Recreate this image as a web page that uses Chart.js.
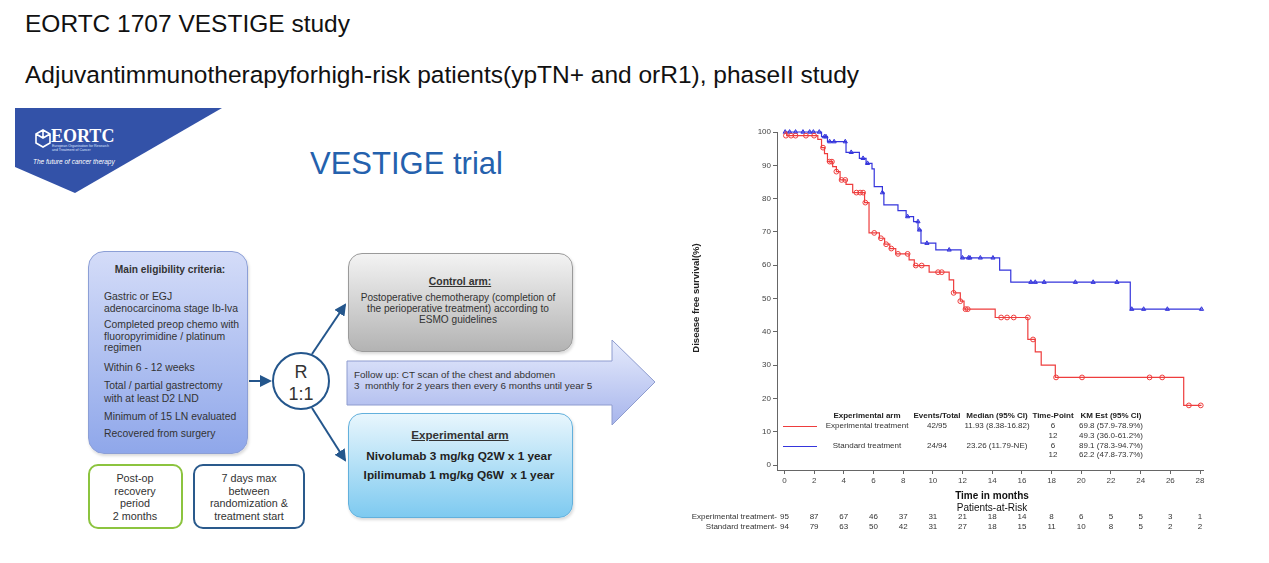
<!DOCTYPE html>
<html>
<head>
<meta charset="utf-8">
<script src="https://cdn.jsdelivr.net/npm/chart.js@4"></script>
<style>
  html, body { margin: 0; padding: 0; background: #fff; }
  body { width: 1269px; height: 563px; position: relative; overflow: hidden; font-family: "Liberation Sans", Arial, sans-serif; color: #222; }
  .abs { position: absolute; }
  .h1 { font-size: 24.5px; color: #111; white-space: nowrap; }
  .box { position: absolute; box-sizing: border-box; }
  .t { position: absolute; white-space: nowrap; font-size: 10.4px; color: #333; line-height: 12px; }
  .c { transform: translateX(-50%); text-align: center; }
  #km { position: absolute; left: 680px; top: 115px; }
</style>
</head>
<body>
<div class="abs h1" style="left:25px; top:10px;">EORTC 1707 VESTIGE study</div>
<div class="abs h1" style="left:25px; top:61px;">Adjuvantimmunotherapyforhigh-risk patients(ypTN+ and orR1), phaseII study</div>

<!-- diagram shapes -->
<svg class="abs" style="left:0; top:0;" width="680" height="563">
  <defs>
    <linearGradient id="gArrow" x1="0" y1="0" x2="0" y2="1">
      <stop offset="0" stop-color="#e6ebfc"/><stop offset="1" stop-color="#a7b5ec"/>
    </linearGradient>
    <marker id="ah" markerWidth="6" markerHeight="6" refX="5" refY="3" orient="auto">
      <path d="M0,0 L6,3 L0,6 z" fill="#24568c"/>
    </marker>
  </defs>
  <polygon points="15,108 222,108 75,193 15,167" fill="#3352a8"/>
  <path d="M36,134 l7,-4 l7,4 l0,9 l-7,4 l-7,-4 z M43,130 l0,8 M36,134 l7,4 l7,-4" fill="none" stroke="#fff" stroke-width="1.6"/>
  <polygon points="347,361 612,361 612,340 655,382 612,425 612,405 347,405" fill="url(#gArrow)" stroke="#8e9ccf" stroke-width="1"/>
  <line x1="249" y1="381" x2="270" y2="381" stroke="#24568c" stroke-width="2" marker-end="url(#ah)"/>
  <line x1="312" y1="354" x2="345" y2="305" stroke="#24568c" stroke-width="2" marker-end="url(#ah)"/>
  <line x1="312" y1="408" x2="345" y2="460" stroke="#24568c" stroke-width="2" marker-end="url(#ah)"/>
</svg>

<div class="abs" style="left:51px; top:126px; font-family:'Liberation Serif',serif; font-weight:bold; font-size:18px; color:#fff;">EORTC</div>
<div class="abs" style="left:52px; top:144px; font-size:3.5px; line-height:4px; color:#dfe5ff;">European Organisation for Research<br>and Treatment of Cancer</div>
<div class="abs" style="left:33px; top:158px; font-size:6.5px; font-style:italic; color:#fff; white-space:nowrap;">The future of cancer therapy</div>
<div class="abs" style="left:310px; top:146px; font-size:31px; color:#2461ad; white-space:nowrap;">VESTIGE trial</div>

<!-- eligibility -->
<div class="box" style="left:88px; top:251px; width:160px; height:203px; border-radius:16px; border:1px solid #8c9fd6; background:linear-gradient(#d4dcf8,#8fa7ea); box-shadow:1px 2px 3px rgba(0,0,0,0.15);"></div>
<div class="t c" style="left:170px; top:264px; font-weight:bold; font-size:10.2px;">Main eligibility criteria:</div>
<div class="t" style="left:104px; top:291px; line-height:11.7px;">Gastric or EGJ<br>adenocarcinoma stage Ib-Iva</div>
<div class="t" style="left:104px; top:319px; line-height:11.7px;">Completed preop chemo with<br>fluoropyrimidine / platinum<br>regimen</div>
<div class="t" style="left:104px; top:362px;">Within 6 - 12 weeks</div>
<div class="t" style="left:104px; top:380px; line-height:12.5px;">Total / partial gastrectomy<br>with at least D2 LND</div>
<div class="t" style="left:104px; top:411px;">Minimum  of 15 LN evaluated</div>
<div class="t" style="left:104px; top:428px;">Recovered from surgery</div>

<div class="box" style="left:88px; top:464px; width:95px; height:65px; border-radius:10px; border:2px solid #8cc43f; background:#fff;"></div>
<div class="t c" style="left:135px; top:472px; line-height:12.5px; font-size:10.8px;">Post-op<br>recovery<br>period<br>2 months</div>
<div class="box" style="left:193px; top:464px; width:112px; height:65px; border-radius:10px; border:2px solid #2a5a8c; background:#fff;"></div>
<div class="t c" style="left:249px; top:472px; line-height:12.5px; font-size:10.8px;">7 days max<br>between<br>randomization &amp;<br>treatment start</div>

<!-- randomisation -->
<div class="box" style="left:272px; top:352px; width:58px; height:58px; border-radius:50%; border:2px solid #24568c; background:#fff;"></div>
<div class="t c" style="left:301px; top:361px; font-size:18px; line-height:22px; color:#333;">R<br>1:1</div>

<!-- arms -->
<div class="box" style="left:348px; top:253px; width:225px; height:99px; border-radius:14px; border:1px solid #9a9a9a; background:linear-gradient(#f3f3f3,#b3b3b3); box-shadow:1px 2px 3px rgba(0,0,0,0.15);"></div>
<div class="t c" style="left:460px; top:276px; font-weight:bold; text-decoration:underline;">Control arm:</div>
<div class="t c" style="left:458px; top:292px; font-size:10.1px; line-height:11px;">Postoperative chemotherapy (completion of<br>the perioperative treatment) according to<br>ESMO guidelines</div>
<div class="t" style="left:354px; top:370px; font-size:9.9px; line-height:10.5px;">Follow up: CT scan of the chest and abdomen<br>3&nbsp; monthly for 2 years then every 6 months until year 5</div>

<div class="box" style="left:348px; top:413px; width:225px; height:105px; border-radius:14px; border:1px solid #62b0dc; background:linear-gradient(#e8f6fd,#7ecaf0); box-shadow:1px 2px 3px rgba(0,0,0,0.15);"></div>
<div class="t c" style="left:460px; top:429px; font-size:11.6px; font-weight:bold; text-decoration:underline;">Experimental arm</div>
<div class="t c" style="left:459px; top:447px; font-size:11.8px; font-weight:bold; line-height:18.5px; color:#222;">Nivolumab 3 mg/kg Q2W x 1 year<br>Ipilimumab 1 mg/kg Q6W&nbsp; x 1 year</div>

<canvas id="km" width="540" height="430"></canvas>

<script>
// Kaplan-Meier steps (months, % disease free)
const expTime = [0, 0.15, 2.25, 2.5, 2.7, 2.9, 3.25, 3.5, 3.75, 4.15, 4.6, 5.4, 5.7, 6.4, 6.75, 7.1, 7.5, 8.4, 8.75, 9.75, 11.1, 11.4, 11.85, 12.1, 14.2, 16.4, 16.9, 17.3, 18.25, 26.9, 28.1];
const expSurv = [100, 98.9, 97.8, 95.3, 93.5, 91.1, 89.6, 88.1, 85.6, 84.3, 81.8, 78.8, 69.7, 68.1, 66.3, 65.0, 63.4, 61.6, 59.9, 57.9, 55.6, 51.7, 49.2, 46.8, 44.3, 37.7, 34.0, 30.0, 26.3, 17.9, 17.9];
const stdTime = [0, 2.5, 2.9, 4.15, 5.05, 5.5, 5.9, 6.05, 6.6, 6.7, 7.65, 8.2, 8.7, 9.0, 9.2, 10.2, 11.9, 14.5, 15.25, 23.3, 28.1];
const stdSurv = [100, 98.6, 97.1, 93.9, 92.1, 90.6, 88.9, 83.6, 81.8, 78.1, 76.4, 74.6, 73.1, 70.6, 66.6, 64.6, 62.2, 58.5, 54.9, 46.8, 46.8];

// censored observations
const expCensT = [0.1, 0.45, 0.75, 1.45, 2.0, 2.6, 3.05, 3.2, 3.5, 3.85, 4.1, 4.85, 5.1, 5.3, 5.45, 6.05, 6.5, 6.85, 7.2, 7.65, 8.3, 8.85, 9.25, 10.35, 10.6, 11.4, 11.85, 12.2, 12.35, 14.6, 15.0, 15.45, 16.4, 16.75, 18.3, 20.05, 24.6, 25.45, 27.25, 28.05];
const expCensS = [98.9, 98.9, 98.9, 98.9, 98.9, 95.3, 91.1, 91.1, 88.1, 85.6, 85.6, 81.8, 81.8, 81.8, 78.8, 69.7, 68.1, 66.3, 65.0, 63.4, 63.4, 59.9, 59.9, 57.9, 57.9, 51.7, 49.2, 46.8, 46.8, 44.3, 44.3, 44.3, 44.3, 37.7, 26.3, 26.3, 26.3, 26.3, 17.9, 17.9];
const stdCensT = [0.05, 0.35, 0.75, 1.25, 1.7, 1.95, 2.35, 2.7, 2.8, 3.05, 3.35, 4.1, 4.5, 5.3, 5.6, 6.6, 8.3, 9.0, 9.1, 9.6, 11.1, 12.0, 12.4, 12.5, 13.2, 14.05, 16.6, 16.9, 17.5, 19.6, 20.8, 22.4, 23.4, 24.2, 25.8, 28.1];
const stdCensS = [100, 100, 100, 100, 100, 100, 100, 98.6, 98.6, 97.1, 97.1, 97.1, 93.9, 92.1, 90.6, 81.8, 74.6, 73.1, 70.6, 66.6, 64.6, 62.2, 62.2, 62.2, 62.2, 62.2, 54.9, 54.9, 54.9, 54.9, 54.9, 54.9, 46.8, 46.8, 46.8, 46.8];

// axes and patients at risk
const xTicks = [0, 2, 4, 6, 8, 10, 12, 14, 16, 18, 20, 22, 24, 26, 28];
const yTicks = [0, 10, 20, 30, 40, 50, 60, 70, 80, 90, 100];
const expRisk = [95, 87, 67, 46, 37, 31, 21, 18, 14, 8, 6, 5, 5, 3, 1];
const stdRisk = [94, 79, 63, 50, 42, 31, 27, 18, 15, 11, 10, 8, 5, 2, 2];

// summary table
const tableHead = ['Experimental arm', 'Events/Total', 'Median (95% CI)', 'Time-Point', 'KM Est (95% CI)'];
const expRow = ['Experimental treatment', '42/95', '11.93 (8.38-16.82)'];
const stdRow = ['Standard treatment', '24/94', '23.26 (11.79-NE)'];
const timePoints = ['6', '12'];
const expKM = ['69.8 (57.9-78.9%)', '49.3 (36.0-61.2%)'];
const stdKM = ['89.1 (78.3-94.7%)', '62.2 (47.8-73.7%)'];

const RED = '#ee3d3d';
const BLUE = '#3535dc';
const FONT = '"Liberation Sans", Arial, sans-serif';

const pts = (t, s) => t.map((v, i) => ({ x: v, y: s[i] }));

const kmExtras = {
    id: 'kmExtras',
    afterDraw(chart) {
        const { ctx, chartArea } = chart;
        const x = chart.scales.x;
        ctx.save();
        ctx.fillStyle = '#222';

        // y axis title
        ctx.save();
        ctx.translate(16, (chartArea.top + chartArea.bottom) / 2 - 3);
        ctx.rotate(-Math.PI / 2);
        ctx.font = 'bold 9.5px ' + FONT;
        ctx.textAlign = 'center';
        ctx.textBaseline = 'middle';
        ctx.fillText('Disease free survival(%)', 0, 0);
        ctx.restore();

        // summary table inside plot
        const cols = [187, 257, 317, 373, 431];
        ctx.textAlign = 'center';
        ctx.textBaseline = 'middle';
        ctx.font = 'bold 8px ' + FONT;
        tableHead.forEach((h, i) => ctx.fillText(h, cols[i], 301));
        ctx.font = '8px ' + FONT;
        ctx.fillStyle = '#333';
        [[expRow, expKM, 311, RED], [stdRow, stdKM, 330.5, BLUE]].forEach(([row, km, yy, col]) => {
            ctx.strokeStyle = col;
            ctx.lineWidth = 1.2;
            ctx.beginPath();
            ctx.moveTo(103, Math.round(yy) + 0.5);
            ctx.lineTo(137, Math.round(yy) + 0.5);
            ctx.stroke();
            row.forEach((v, i) => ctx.fillText(v, cols[i], yy));
            timePoints.forEach((tp, j) => {
                ctx.fillText(tp, cols[3], yy + j * 9.7);
                ctx.fillText(km[j], cols[4], yy + j * 9.7);
            });
        });

        // x axis title and risk table
        ctx.fillStyle = '#111';
        ctx.font = 'bold 10px ' + FONT;
        ctx.fillText('Time in months', 312, 381);
        ctx.font = '10px ' + FONT;
        ctx.fillText('Patients-at-Risk', 312, 393);
        ctx.font = '8px ' + FONT;
        ctx.fillStyle = '#333';
        ctx.textAlign = 'right';
        ctx.fillText('Experimental treatment-', 97, 402);
        ctx.fillText('Standard treatment-', 97, 412);
        ctx.textAlign = 'center';
        xTicks.forEach((t, i) => {
            const px = x.getPixelForValue(t);
            ctx.fillText(String(expRisk[i]), px, 402);
            ctx.fillText(String(stdRisk[i]), px, 412);
        });
        ctx.restore();
    }
};

new Chart(document.getElementById('km').getContext('2d'), {
    type: 'line',
    data: {
        datasets: [
            { data: pts(expTime, expSurv), stepped: true, borderColor: RED, borderWidth: 1.2, pointRadius: 0, fill: false, clip: false },
            { data: pts(stdTime, stdSurv), stepped: true, borderColor: BLUE, borderWidth: 1.2, pointRadius: 0, fill: false, clip: false },
            { data: pts(expCensT, expCensS), showLine: false, pointStyle: 'circle', pointRadius: 2.4, borderColor: RED, borderWidth: 1, backgroundColor: 'rgba(255,255,255,0)', clip: false },
            { data: pts(stdCensT, stdCensS), showLine: false, pointStyle: 'triangle', pointRadius: 2.4, borderColor: BLUE, borderWidth: 1, backgroundColor: 'rgba(53,53,220,0.45)', clip: false }
        ]
    },
    options: {
        responsive: false,
        animation: false,
        devicePixelRatio: 1,
        layout: { padding: { left: 0, right: 17, top: 17, bottom: 0 } },
        plugins: { legend: { display: false }, tooltip: { enabled: false } },
        scales: {
            x: {
                type: 'linear',
                min: -0.5,
                max: 28.2,
                afterBuildTicks: s => { s.ticks = xTicks.map(v => ({ value: v })); },
                afterFit: s => { s.height = 75; },
                ticks: { font: { size: 8, family: FONT }, color: '#444', padding: 2, maxRotation: 0, autoSkip: false },
                grid: { display: true, drawOnChartArea: false, tickLength: 4, color: '#666' },
                border: { color: '#666', width: 1 }
            },
            y: {
                type: 'linear',
                min: -1.5,
                max: 100,
                afterBuildTicks: s => { s.ticks = yTicks.map(v => ({ value: v })); },
                afterFit: s => { s.width = 97; },
                ticks: { font: { size: 8, family: FONT }, color: '#444', padding: 2 },
                grid: { display: true, drawOnChartArea: false, tickLength: 4, color: '#666' },
                border: { color: '#666', width: 1 }
            }
        }
    },
    plugins: [kmExtras]
});
</script>
</body>
</html>
